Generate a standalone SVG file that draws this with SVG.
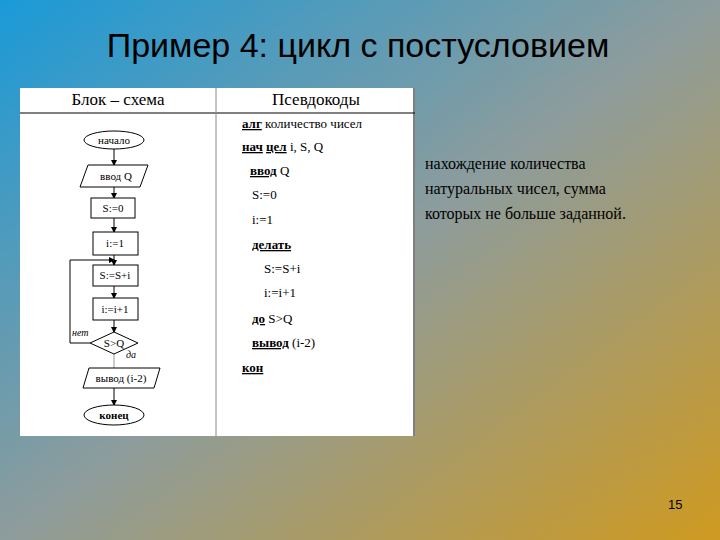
<svg xmlns="http://www.w3.org/2000/svg" width="720" height="540" viewBox="0 0 720 540">
<defs>
<linearGradient id="bg" x1="0" y1="0" x2="1" y2="1">
<stop offset="0" stop-color="#1a9ad8"/>
<stop offset="0.5" stop-color="#8d9c9c"/>
<stop offset="1" stop-color="#cf9a20"/>
</linearGradient>
<marker id="ar" markerWidth="6" markerHeight="6" refX="5" refY="3" orient="auto" markerUnits="userSpaceOnUse"><path d="M0,0 L6,3 L0,6 z" fill="#000"/></marker>
<style>
.s{fill:#fff;stroke:#000;stroke-width:1}
.t{font-family:"Liberation Serif",serif;font-size:11px;fill:#000}
.c{text-anchor:middle}
.p{font-family:"Liberation Serif",serif;font-size:13px;fill:#000}
.h{font-size:17px}
.k{font-weight:bold;text-decoration:underline}
.l{stroke:#000;stroke-width:1;fill:none}
</style>
</defs>
<rect width="720" height="540" fill="url(#bg)"/>
<text x="358" y="57" text-anchor="middle" font-family="Liberation Sans,sans-serif" font-size="34" fill="#000">Пример 4: цикл с постусловием</text>
<rect x="20" y="88" width="395" height="348" fill="#fff"/>
<line x1="20" y1="113" x2="415" y2="113" stroke="#000"/>
<line x1="216" y1="88" x2="216" y2="436" stroke="#888"/>
<line x1="414" y1="88" x2="414" y2="436" stroke="#000"/>
<text x="118" y="105" class="p c h">Блок – схема</text>
<text x="316" y="105" class="p c h">Псевдокоды</text>
<g id="connectors">
<line class="l" x1="114" y1="149" x2="114" y2="165" marker-end="url(#ar)"/>
<line class="l" x1="114" y1="187" x2="114" y2="198" marker-end="url(#ar)"/>
<line class="l" x1="114" y1="218" x2="114" y2="232" marker-end="url(#ar)"/>
<line class="l" x1="114" y1="255" x2="114" y2="265" marker-end="url(#ar)"/>
<line class="l" x1="114" y1="286" x2="114" y2="298" marker-end="url(#ar)"/>
<line class="l" x1="114" y1="320" x2="114" y2="332" marker-end="url(#ar)"/>
<polyline class="l" points="90,343 70,343 70,260 114,260" marker-end="url(#ar)"/>
<line x1="114" y1="354" x2="114" y2="368" stroke="#999"/>
<line class="l" x1="114" y1="388" x2="114" y2="405" marker-end="url(#ar)"/>
<text x="72" y="336" class="t" font-style="italic" style="font-size:10px">нет</text>
<text x="126" y="358" class="t" font-style="italic" style="font-size:10px">да</text>
</g>
<g id="start"><ellipse class="s" cx="114" cy="140" rx="30" ry="9"/><text x="114" y="144" class="t c">начало</text></g>
<g id="input"><polygon class="s" points="88,165 148,165 140,187 80,187"/><text x="116" y="180" class="t c">ввод Q</text></g>
<g id="s0"><rect class="s" x="91" y="198" width="44" height="20"/><text x="113" y="212" class="t c">S:=0</text></g>
<g id="i1"><rect class="s" x="93" y="232" width="45" height="23"/><text x="115" y="247" class="t c">i:=1</text></g>
<g id="ssi"><rect class="s" x="93" y="265" width="45" height="21"/><text x="115" y="279" class="t c">S:=S+i</text></g>
<g id="ii1"><rect class="s" x="93" y="298" width="45" height="22"/><text x="115" y="313" class="t c">i:=i+1</text></g>
<g id="cond"><polygon class="s" points="114,332 138,343 114,354 90,343"/><text x="114" y="347" class="t c">S&gt;Q</text></g>
<g id="output"><polygon class="s" points="89,368 160,368 154,388 83,388"/><text x="121" y="382" class="t c">вывод (i-2)</text></g>
<g id="end"><ellipse class="s" cx="114" cy="415" rx="30" ry="10"/><text x="114" y="419" class="t c" font-weight="bold">конец</text></g>
<g id="code">
<text x="242" y="128" class="p"><tspan class="k">алг</tspan> количество чисел</text>
<text x="242" y="151" class="p"><tspan class="k">нач</tspan> <tspan class="k">цел</tspan> i, S, Q</text>
<text x="250" y="175" class="p"><tspan class="k">ввод</tspan> Q</text>
<text x="252" y="199" class="p">S:=0</text>
<text x="252" y="224" class="p">i:=1</text>
<text x="252" y="249" class="p k">делать</text>
<text x="264" y="273" class="p">S:=S+i</text>
<text x="264" y="297" class="p">i:=i+1</text>
<text x="252" y="323" class="p"><tspan class="k">до</tspan> S&gt;Q</text>
<text x="252" y="347" class="p"><tspan class="k">вывод</tspan> (i-2)</text>
<text x="242" y="372" class="p k">кон</text>
</g>
<g font-family="Liberation Serif,serif" font-size="16" fill="#000">
<text x="425" y="169">нахождение количества</text>
<text x="425" y="194">натуральных чисел, сумма</text>
<text x="425" y="219">которых не больше заданной.</text>
</g>
<text x="668" y="509" font-family="Liberation Sans,sans-serif" font-size="13" fill="#000">15</text>
</svg>
